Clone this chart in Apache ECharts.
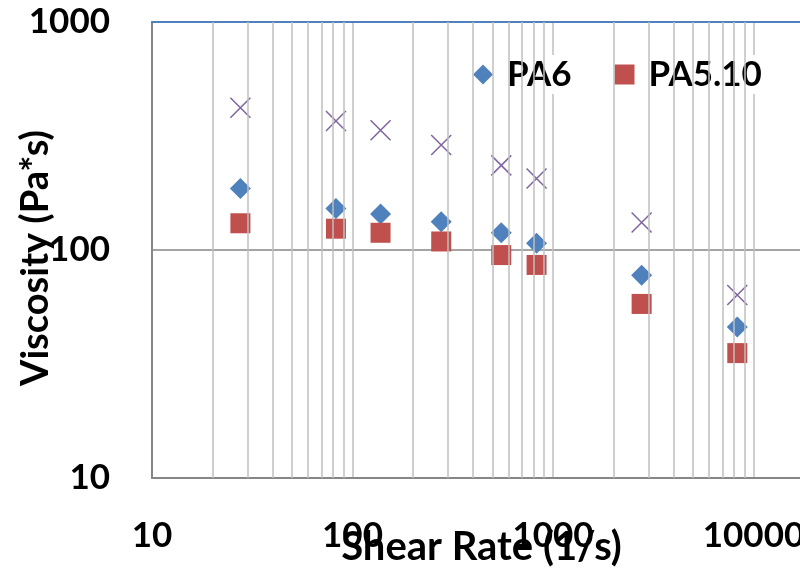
<!DOCTYPE html>
<html>
<head>
<meta charset="utf-8">
<script src="https://cdn.jsdelivr.net/npm/echarts@6/dist/echarts.min.js"></script>
<style>html,body{margin:0;padding:0;background:#fff}#c{width:800px;height:571px}</style>
</head>
<body>
<div id="c"></div>
<script>
// Shear rate (1/s)
const shearRate = [27.6, 82.7, 138, 277, 552, 828, 2767, 8300];
// Viscosity (Pa*s)
const pa6 = [186, 152, 144, 133, 119, 107, 77.5, 46];
const pa510 = [131, 124, 119, 109, 95, 86, 58, 35.3];
const series3 = [421, 368, 335, 289, 235, 206, 132, 63.5];
const xMinorGrid = [20,30,40,50,60,70,80,90,200,300,400,500,600,700,800,900,2000,3000,4000,5000,6000,7000,8000,9000,20000,30000,40000,50000,60000,70000,80000,90000];

const font = 'Lato, "Open Sans", sans-serif';
const pairs = (xs, ys) => xs.map((x, i) => [x, ys[i]]);
const plain = v => String(Math.round(v));

const chart = echarts.init(document.getElementById('c'), null, {renderer: 'canvas'});
chart.setOption({
  animation: false,
  backgroundColor: '#fff',
  grid: {left: 152, top: 22, width: 802, height: 456, containLabel: false, outerBoundsMode: 'none'},
  xAxis: [{
    type: 'log', logBase: 10, min: 10, max: 100000,
    axisLine: {show: true, lineStyle: {color: '#868686', width: 2}},
    axisTick: {show: false},
    splitLine: {show: true, lineStyle: {color: '#BFBFBF', width: 1.5}},
    axisLabel: {margin: 40, fontFamily: font, fontWeight: 'bold', fontSize: 35, color: '#000', formatter: plain},
    name: 'Shear Rate (1/s)', nameLocation: 'middle', nameGap: 49, nameMoveOverlap: false,
    nameTextStyle: {fontFamily: font, fontWeight: 'bold', fontSize: 40, color: '#000', padding: [0, 143, 0, 0]}
  }, {
    type: 'log', logBase: 10, min: 10, max: 100000, position: 'top',
    axisLine: {show: true, lineStyle: {color: '#4F81BD', width: 2}},
    axisTick: {show: false}, axisLabel: {show: false}, splitLine: {show: false}
  }],
  yAxis: {
    type: 'log', logBase: 10, min: 10, max: 1000,
    axisLine: {show: true, lineStyle: {color: '#868686', width: 2}},
    axisTick: {show: false},
    splitLine: {show: true, lineStyle: {color: '#868686', width: 1.5}},
    axisLabel: {margin: 42, fontFamily: font, fontWeight: 'bold', fontSize: 35, color: '#000', formatter: plain},
    name: 'Viscosity (Pa*s)', nameLocation: 'middle', nameGap: 97, nameMoveOverlap: false,
    nameTextStyle: {fontFamily: font, fontWeight: 'bold', fontSize: 38, color: '#000', padding: [0, 16, 0, 0]}
  },
  legend: {
    data: ['PA6', 'PA5.10'], left: 438, top: 55, width: 700, orient: 'horizontal',
    itemWidth: 20, itemHeight: 20, itemGap: 43,
    backgroundColor: '#fff', padding: [2, 40, 2, 35],
    textStyle: {fontFamily: font, fontWeight: 'bold', fontSize: 35, color: '#000', padding: [0, 0, 0, 9]}
  },
  series: [
    {
      type: 'line', name: 'grid', data: [], z: 1, silent: true,
      markLine: {
        silent: true, symbol: ['none', 'none'], label: {show: false},
        lineStyle: {color: '#BFBFBF', width: 1.5, type: 'solid'},
        data: xMinorGrid.map(v => ({xAxis: v}))
      }
    },
    {
      type: 'scatter', name: 'PA6', data: pairs(shearRate, pa6), z: 4,
      symbol: 'diamond', symbolSize: 21, itemStyle: {color: '#4F81BD', opacity: 1}
    },
    {
      type: 'scatter', name: 'PA5.10', data: pairs(shearRate, pa510), z: 4,
      symbol: 'rect', symbolSize: 20, itemStyle: {color: '#C0504D', opacity: 1}
    },
    {
      type: 'scatter', name: 'Series 3', data: pairs(shearRate, series3), z: 4,
      symbol: 'path://M0,0L10,10M10,0L0,10', symbolSize: 20,
      itemStyle: {color: 'none', borderColor: '#8064A2', borderWidth: 1.5, opacity: 1}
    }
  ]
});
</script>
</body>
</html>
